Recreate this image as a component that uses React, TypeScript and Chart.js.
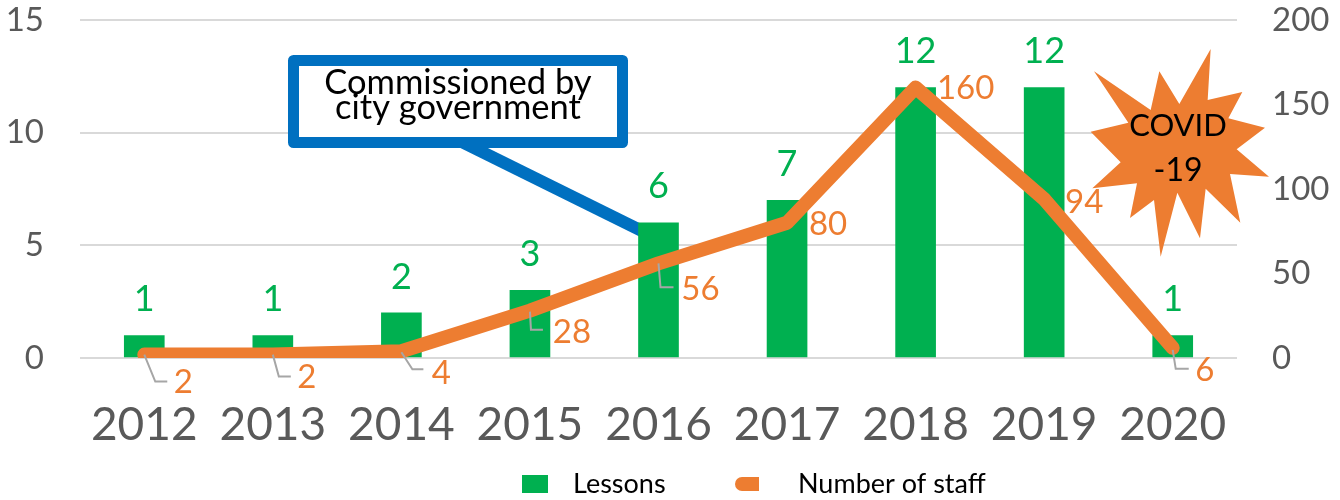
import React, { useEffect, useRef } from "react";
import { Chart, registerables } from "chart.js";

Chart.register(...registerables);

const years = ["2012", "2013", "2014", "2015", "2016", "2017", "2018", "2019", "2020"];
const lessons = [1, 1, 2, 3, 6, 7, 12, 12, 1];
const staff = [2, 2, 4, 28, 56, 80, 160, 94, 6];

const GREEN = "#00B050";
const ORANGE = "#ED7D31";
const BLUE = "#0070C0";
const GRAY = "#595959";
const FONT = "Lato, 'Open Sans', sans-serif";

// label centre offset from the staff point (dx, dy)
const staffLabelOffsets = [
  [39, 28], [34, 23], [40, 22], [42, 22], [42, 26], [41, 2], [50, 1], [40, 3], [32, 22],
];
// leader elbows relative to the staff point: [start dx, dy, elbow dx, dy, end dx, dy]; empty means none
const leaders = [
  [0, 0, 11, 27, 23, 27],
  [0, 0, 6, 22, 18, 22],
  [0, 1, 11, 18, 22, 18],
  [0, 1, 1, 19, 13, 19],
  [0, 0, 2, 24, 15, 24],
  [], [], [],
  [0, 2, 3, 21, 16, 21],
];
const starPts = [
  [452, 57], [443, 210], [547, 186], [505, 265], [615, 293], [530, 358], [627, 440], [510, 432],
  [541, 578], [437, 476], [420, 625], [352, 488], [302, 680], [282, 510], [210, 564], [231, 460],
  [97, 475], [182, 397], [92, 305], [205, 278], [102, 124], [272, 240], [298, 124], [358, 222],
];

const leaderPlugin = {
  id: "calloutLeader",
  beforeDatasetsDraw(chart: any) {
    const { ctx } = chart;
    ctx.save();
    ctx.strokeStyle = BLUE;
    ctx.lineWidth = 12;
    ctx.beginPath();
    ctx.moveTo(462, 142);
    ctx.lineTo(642, 231);
    ctx.stroke();
    ctx.restore();
  },
};

const overlayPlugin = {
  id: "overlay",
  afterDatasetsDraw(chart: any) {
    const { ctx, scales } = chart;
    const x = scales.x, y = scales.y, y1 = scales.y1;
    ctx.save();
    ctx.textAlign = "center";
    ctx.textBaseline = "middle";

    years.forEach((_, i) => {
      const px = x.getPixelForValue(i);
      ctx.font = `36px ${FONT}`;
      ctx.fillStyle = GREEN;
      ctx.fillText(String(lessons[i]), px, y.getPixelForValue(lessons[i]) - 36);

      const py = y1.getPixelForValue(staff[i]);
      const l = leaders[i];
      if (l.length) {
        ctx.strokeStyle = "#A6A6A6";
        ctx.lineWidth = 2;
        ctx.beginPath();
        ctx.moveTo(px + l[0], py + l[1]);
        ctx.lineTo(px + l[2], py + l[3]);
        ctx.lineTo(px + l[4], py + l[5]);
        ctx.stroke();
      }
      const o = staffLabelOffsets[i];
      ctx.font = `33px ${FONT}`;
      ctx.fillStyle = ORANGE;
      ctx.fillText(String(staff[i]), px + o[0], py + o[1]);
    });

    // callout box
    ctx.fillStyle = "#FFFFFF";
    ctx.strokeStyle = BLUE;
    ctx.lineWidth = 11;
    ctx.lineJoin = "round";
    ctx.beginPath();
    ctx.rect(293.5, 60.5, 329, 82);
    ctx.fill();
    ctx.stroke();
    ctx.fillStyle = "#000000";
    ctx.textBaseline = "alphabetic";
    ctx.font = `34.5px ${FONT}`;
    ctx.fillText("Commissioned by", 458, 94);
    ctx.fillText("city government", 458, 119);

    // star
    ctx.fillStyle = ORANGE;
    ctx.beginPath();
    starPts.forEach(([sx, sy], i) => {
      const ax = 1060 + sx / 3, ay = 30 + sy / 3;
      if (i === 0) ctx.moveTo(ax, ay);
      else ctx.lineTo(ax, ay);
    });
    ctx.closePath();
    ctx.fill();
    ctx.fillStyle = "#000000";
    ctx.font = `31px ${FONT}`;
    ctx.fillText("COVID", 1178, 136);
    ctx.font = `32px ${FONT}`;
    ctx.fillText("-19", 1178, 181);

    // legend
    ctx.textAlign = "left";
    ctx.font = `27px ${FONT}`;
    ctx.fillStyle = GREEN;
    ctx.fillRect(522, 475, 26, 18);
    ctx.fillStyle = "#000000";
    ctx.fillText("Lessons", 573, 493);
    ctx.strokeStyle = ORANGE;
    ctx.lineWidth = 14;
    ctx.lineCap = "round";
    ctx.beginPath();
    ctx.moveTo(742, 484);
    ctx.lineTo(750, 484);
    ctx.stroke();
    ctx.lineCap = "butt";
    ctx.beginPath();
    ctx.moveTo(745, 484);
    ctx.lineTo(759, 484);
    ctx.stroke();
    ctx.fillStyle = "#000000";
    ctx.fillText("Number of staff", 798, 493);
    ctx.restore();
  },
};

function noPadding(s: any) {
  s.paddingTop = 0;
  s.paddingBottom = 0;
  s.paddingLeft = 0;
  s.paddingRight = 0;
}

export default function App() {
  const ref = useRef<HTMLCanvasElement>(null);
  useEffect(() => {
    const chart = new Chart(ref.current!, {
      type: "bar",
      data: {
        labels: years,
        datasets: [
          {
            type: "line",
            label: "Number of staff",
            data: staff,
            yAxisID: "y1",
            borderColor: ORANGE,
            backgroundColor: ORANGE,
            borderWidth: 14,
            borderCapStyle: "round",
            borderJoinStyle: "round",
            pointRadius: 0,
            tension: 0,
            order: 1,
          },
          {
            type: "bar",
            label: "Lessons",
            data: lessons,
            yAxisID: "y",
            backgroundColor: GREEN,
            barThickness: 40,
            order: 2,
          },
        ],
      } as any,
      options: {
        responsive: false,
        animation: false,
        layout: { padding: { top: 20, left: 0, right: 0, bottom: 0 } },
        plugins: { legend: { display: false }, tooltip: { enabled: false } },
        scales: {
          x: {
            grid: { display: false, drawTicks: false },
            border: { display: false },
            ticks: { color: GRAY, font: { family: FONT, size: 46 }, padding: 40, maxRotation: 0, autoSkip: false },
            afterFit(s: any) { s.height = 142; noPadding(s); },
          },
          y: {
            min: 0,
            max: 15,
            grid: { color: "#D9D9D9", lineWidth: 2, drawTicks: false },
            border: { display: false },
            ticks: { stepSize: 5, color: GRAY, font: { family: FONT, size: 33 }, padding: 36 },
            afterFit(s: any) { s.width = 80; noPadding(s); },
          },
          y1: {
            position: "right",
            min: 0,
            max: 200,
            grid: { display: false, drawTicks: false },
            border: { display: false },
            ticks: { stepSize: 50, color: GRAY, font: { family: FONT, size: 33 }, padding: 35 },
            afterFit(s: any) { s.width = 103; noPadding(s); },
          },
        },
      } as any,
      plugins: [leaderPlugin, overlayPlugin],
    });
    return () => chart.destroy();
  }, []);
  return (
    <div style={{ position: "absolute", left: 0, top: 0, width: 1340, height: 500, background: "#fff" }}>
      <canvas ref={ref} width={1340} height={500} style={{ display: "block" }} />
    </div>
  );
}
